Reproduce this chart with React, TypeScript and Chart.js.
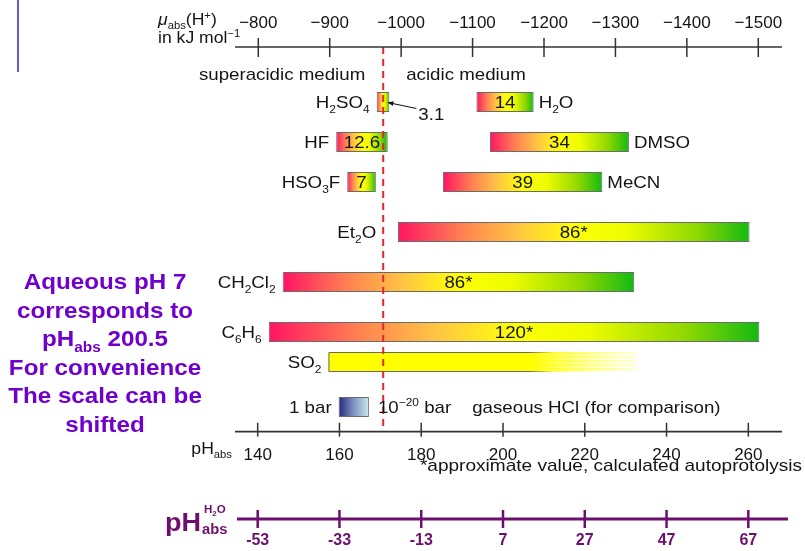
import React, { useEffect, useRef } from 'react';
import { Chart, registerables } from 'chart.js';

Chart.register(...registerables);

const FONT = '"Liberation Sans", Arial, Helvetica, sans-serif';
const INK = '#141414';
const NOTE_PURPLE = '#7000cc';
const AXIS_PURPLE = '#6d0f6d';

// ---------------- data ----------------
// main rows (superacidic media, solvents, SO2, gaseous HCl reference)
const rowLabels = ['H_2SO_4', 'HF', 'HSO_3F', 'Et_2O', 'CH_2Cl_2', 'C_6H_6', 'SO_2', '1 bar'];
const rowLevels = [5.5, 9.5, 13.5, 18.5, 23.5, 28.5, 31.5, 36];
const rowStart = [169.1, 159.2, 161.9, 174.3, 146.1, 142.7, 157.3, 159.8];
const rowEnd = [172.2, 171.8, 168.9, 260.3, 232.1, 262.7, 232.8, 167.2];
const rowValues = ['3.1', '12.6', '7', '86*', '86*', '120*', '', ''];

// acidic-medium solvents (right column of the first three rows)
const acidLabels = ['H_2O', 'DMSO', 'MeCN'];
const acidLevels = [5.5, 9.5, 13.5];
const acidStart = [193.5, 196.8, 185.3];
const acidEnd = [207.5, 230.8, 224.3];
const acidValues = ['14', '34', '39'];

const so2Row = 6;
const gasRow = 7;
const so2SolidEnd = 207.1;
const dividerPH = 170.7;

const phRange = [134.45, 268.24];
const muRange = [-1533.2, -767.4];
const waterShift = 193;
const levelRange = [0, 38.47];
const phTicks = [140, 160, 180, 200, 220, 240, 260];
const muTicks = [-800, -900, -1000, -1100, -1200, -1300, -1400, -1500];
const waterTicks = [-53, -33, -13, 7, 27, 47, 67];

const noteLines = ['Aqueous pH 7', 'corresponds to', 'pH_{abs} 200.5', 'For convenience', 'The scale can be', 'shifted'];

// ---------------- helpers ----------------
function parseRich(s: string) {
  const segs: { t: string; k: number }[] = [];
  let cur = '';
  let i = 0;
  while (i < s.length) {
    const ch = s[i];
    if ((ch === '_' || ch === '^') && i + 1 < s.length) {
      if (cur) { segs.push({ t: cur, k: 0 }); cur = ''; }
      let t = '';
      if (s[i + 1] === '{') { const j = s.indexOf('}', i + 2); t = s.slice(i + 2, j); i = j + 1; }
      else { t = s[i + 1]; i += 2; }
      segs.push({ t, k: ch === '_' ? 1 : 2 });
    } else { cur += ch; i++; }
  }
  if (cur) segs.push({ t: cur, k: 0 });
  return segs;
}

function drawRich(ctx: any, s: string, x: number, y: number, o: any = {}) {
  const size = o.size ?? 17;
  const weight = o.weight ?? 'normal';
  const style = o.style ?? 'normal';
  const sub = o.sub ?? size * 0.64;
  const sx = o.sx ?? 1.1;
  const segs = parseRich(s);
  const font = (k: number) => `${style} ${weight} ${k ? sub : size}px ${FONT}`;
  const widths = segs.map((sg) => { ctx.font = font(sg.k); return ctx.measureText(sg.t).width; });
  const w = widths.reduce((a, b) => a + b, 0) * sx;
  const align = o.align ?? 'left';
  const x0 = align === 'left' ? x : align === 'right' ? x - w : x - w / 2;
  if (o.measureOnly) return w;
  ctx.save();
  ctx.translate(x0, y);
  ctx.scale(sx, 1);
  ctx.fillStyle = o.color ?? INK;
  ctx.textAlign = 'left';
  ctx.textBaseline = 'alphabetic';
  let cx = 0;
  segs.forEach((sg, i) => {
    ctx.font = font(sg.k);
    const dy = sg.k === 1 ? size * 0.28 : sg.k === 2 ? -size * 0.4 : 0;
    ctx.fillText(sg.t, cx, dy);
    cx += widths[i];
  });
  ctx.restore();
  return w;
}

function barFill(c: any) {
  const chart = c.chart;
  const xs = chart.scales.x;
  const raw = c.raw;
  if (!xs || !raw || !chart.chartArea) return '#ffff00';
  const x0 = xs.getPixelForValue(raw.x[0]);
  const x1 = xs.getPixelForValue(raw.x[1]);
  const g = chart.ctx.createLinearGradient(x0, 0, x1, 0);
  if (c.datasetIndex === 0 && c.dataIndex === gasRow) {
    g.addColorStop(0, '#26287f');
    g.addColorStop(0.5, '#7f93c0');
    g.addColorStop(1, '#cbe9ec');
  } else if (c.datasetIndex === 0 && c.dataIndex === so2Row) {
    const f = Math.min(0.99, Math.max(0, (xs.getPixelForValue(so2SolidEnd) - x0) / (x1 - x0)));
    g.addColorStop(0, '#ffff00');
    g.addColorStop(f, '#ffff00');
    g.addColorStop(1, 'rgba(255,255,0,0.15)');
  } else {
    g.addColorStop(0, '#ff1462');
    g.addColorStop(0.18, '#ff7f52');
    g.addColorStop(0.34, '#ffc444');
    g.addColorStop(0.5, '#ffff08');
    g.addColorStop(0.65, '#eefc00');
    g.addColorStop(0.85, '#8fd800');
    g.addColorStop(1, '#12ba12');
  }
  return g;
}

function drawAxis(ctx: any, scale: any, y: number, ticks: number[], o: any) {
  ctx.save();
  ctx.strokeStyle = o.color;
  ctx.lineWidth = o.lw;
  ctx.beginPath();
  ctx.moveTo(o.x0, y);
  ctx.lineTo(o.x1, y);
  ctx.stroke();
  ctx.lineWidth = o.tlw;
  ticks.forEach((v) => {
    const px = scale.getPixelForValue(v);
    ctx.beginPath();
    ctx.moveTo(px, y - o.up);
    ctx.lineTo(px, y + o.down);
    ctx.stroke();
  });
  ctx.restore();
}

const decor = {
  id: 'decor',
  afterDraw(chart: any) {
    const { ctx, chartArea: area } = chart;
    const xs = chart.scales.x;
    const xt = chart.scales.xTop;
    const xw = chart.scales.xWater;
    const divX = xs.getPixelForValue(dividerPH);
    const main = chart.getDatasetMeta(0).data;
    const acid = chart.getDatasetMeta(1).data;

    // slide decoration line (top-left)
    ctx.save();
    ctx.fillStyle = '#6a5ad0';
    ctx.fillRect(17, 0, 2, 72);
    ctx.restore();

    // SO2: fading streaks + partial border
    const so2 = main[so2Row];
    if (so2) {
      const x0 = Math.min(so2.base, so2.x);
      const x1 = Math.max(so2.base, so2.x);
      const h = so2.height;
      const top = so2.y - h / 2;
      const bot = so2.y + h / 2;
      const xsE = xs.getPixelForValue(so2SolidEnd);
      ctx.save();
      const g = ctx.createLinearGradient(xsE, 0, x1, 0);
      g.addColorStop(0, 'rgba(255,255,255,0)');
      g.addColorStop(1, 'rgba(255,255,255,1)');
      ctx.fillStyle = g;
      for (let k = 0; k < 5; k++) ctx.fillRect(xsE, top + 2 + k * 4, x1 - xsE + 2, 1.7);
      const sg = ctx.createLinearGradient(xsE - 4, 0, xsE + 22, 0);
      sg.addColorStop(0, 'rgba(105,105,105,1)');
      sg.addColorStop(1, 'rgba(105,105,105,0)');
      ctx.strokeStyle = sg;
      ctx.lineWidth = 1;
      ctx.beginPath();
      ctx.moveTo(xsE + 22, top + 0.5);
      ctx.lineTo(x0 + 0.5, top + 0.5);
      ctx.lineTo(x0 + 0.5, bot - 0.5);
      ctx.lineTo(xsE + 22, bot - 0.5);
      ctx.stroke();
      ctx.restore();
    }

    // red dashed divider
    ctx.save();
    ctx.strokeStyle = '#e8242c';
    ctx.lineWidth = 2;
    ctx.setLineDash([7, 5]);
    ctx.beginPath();
    ctx.moveTo(divX, area.top);
    ctx.lineTo(divX, area.bottom);
    ctx.stroke();
    ctx.restore();

    // main row labels and values
    main.forEach((el: any, i: number) => {
      const left = Math.min(el.x, el.base);
      const right = Math.max(el.x, el.base);
      drawRich(ctx, rowLabels[i], Math.min(left, divX) - 7, el.y + 6, { align: 'right' });
      const v = rowValues[i];
      if (v) {
        const tw = drawRich(ctx, v, 0, 0, { measureOnly: true });
        if (tw + 4 < right - left) {
          drawRich(ctx, v, (left + right) / 2, el.y + 6, { align: 'center' });
        } else {
          const tx = right + 29;
          drawRich(ctx, v, tx, el.y + 18, {});
          ctx.save();
          ctx.strokeStyle = INK;
          ctx.fillStyle = INK;
          ctx.lineWidth = 1.1;
          const ax = right - 1.5, ay = el.y + 0.5;
          const bx = tx - 2, by = el.y + 6.5;
          ctx.beginPath();
          ctx.moveTo(bx, by);
          ctx.lineTo(ax, ay);
          ctx.stroke();
          const ang = Math.atan2(ay - by, ax - bx);
          ctx.beginPath();
          ctx.moveTo(ax, ay);
          ctx.lineTo(ax - 6 * Math.cos(ang - 0.4), ay - 6 * Math.sin(ang - 0.4));
          ctx.lineTo(ax - 6 * Math.cos(ang + 0.4), ay - 6 * Math.sin(ang + 0.4));
          ctx.closePath();
          ctx.fill();
          ctx.restore();
        }
      }
    });

    // acidic-medium solvents: names on the right
    acid.forEach((el: any, i: number) => {
      const left = Math.min(el.x, el.base);
      const right = Math.max(el.x, el.base);
      drawRich(ctx, acidLabels[i], right + 5, el.y + 6, {});
      drawRich(ctx, acidValues[i], (left + right) / 2, el.y + 6, { align: 'center' });
    });

    // gaseous HCl reference texts
    const gas = main[gasRow];
    if (gas) {
      const right = Math.max(gas.x, gas.base);
      const w = drawRich(ctx, '10^{\u221220} bar', right + 9, gas.y + 6, {});
      drawRich(ctx, 'gaseous HCl (for comparison)', right + 9 + w + 21, gas.y + 6, {});
    }

    // medium labels
    drawRich(ctx, 'superacidic medium', divX - 18, area.top + 32.5, { align: 'right' });
    drawRich(ctx, 'acidic medium', divX + 23, area.top + 32.5, {});

    // footnote
    drawRich(ctx, '*approximate value, calculated autoprotolysis', chart.width - 3, xs.top + 39, { align: 'right', sx: 1.12 });

    // axes
    drawAxis(ctx, xt, xt.bottom, muTicks, { color: '#333', lw: 1.7, tlw: 1.5, up: 9, down: 10, x0: area.left, x1: area.right });
    drawAxis(ctx, xs, xs.top, phTicks, { color: '#333', lw: 1.7, tlw: 1.5, up: 9, down: 5, x0: area.left, x1: area.right });
    drawAxis(ctx, xw, xw.top, waterTicks, { color: AXIS_PURPLE, lw: 3, tlw: 2.5, up: 9, down: 9, x0: area.left + 2, x1: area.right + 6 });

    // axis titles
    const mw = drawRich(ctx, '\u03bc', area.left - 77, area.top - 22, { size: 16, style: 'italic' });
    drawRich(ctx, '_{abs}(H^+)', area.left - 77 + mw, area.top - 22, { size: 16 });
    drawRich(ctx, 'in kJ mol^{\u22121}', area.left - 77, area.top - 4, { size: 16 });
    drawRich(ctx, 'pH_{abs}', area.left - 3, xs.top + 22.3, { size: 16, align: 'right' });

    const pw = drawRich(ctx, 'pH', area.left - 70, xw.top + 12, { size: 25, weight: 'bold', color: AXIS_PURPLE, sx: 1.08 });
    drawRich(ctx, 'abs', area.left - 70 + pw + 1, xw.top + 15, { size: 14, weight: 'bold', color: AXIS_PURPLE, sx: 1.05 });
    drawRich(ctx, 'H_2O', area.left - 70 + pw + 3, xw.top - 6, { size: 11, sub: 7.5, weight: 'bold', color: AXIS_PURPLE, sx: 1.05 });

    // left note
    noteLines.forEach((line, i) => {
      drawRich(ctx, line, 105, 289 + 28.6 * i, { size: 22, sub: 14, weight: 'bold', color: NOTE_PURPLE, align: 'center', sx: 1.1 });
    });
  },
};

export default function App() {
  const ref = useRef<HTMLCanvasElement | null>(null);

  useEffect(() => {
    const canvas = ref.current;
    if (!canvas) return;
    const tickFont = { family: FONT, size: 17 };
    const chart = new Chart(canvas, {
      type: 'bar',
      data: {
        datasets: [
          {
            label: 'media',
            data: rowStart.map((s, i) => ({ x: [s, rowEnd[i]], y: rowLevels[i] })),
            backgroundColor: barFill,
            borderColor: '#6b6b6b',
            borderWidth: (c: any) => (c.dataIndex === so2Row ? 0 : 1),
            borderSkipped: false,
            grouped: false,
            maxBarThickness: 20,
            xAxisID: 'x',
            yAxisID: 'y',
          },
          {
            label: 'acidic',
            data: acidStart.map((s, i) => ({ x: [s, acidEnd[i]], y: acidLevels[i] })),
            backgroundColor: barFill,
            borderColor: '#6b6b6b',
            borderWidth: 1,
            borderSkipped: false,
            grouped: false,
            maxBarThickness: 20,
            xAxisID: 'x',
            yAxisID: 'y',
          },
        ] as any,
      },
      options: {
        indexAxis: 'y',
        responsive: false,
        devicePixelRatio: 1,
        animation: false,
        events: [],
        layout: { padding: { left: 235, right: 23, top: 0, bottom: 0 } },
        plugins: { legend: { display: false }, tooltip: { enabled: false } },
        scales: {
          x: {
            type: 'linear',
            axis: 'x',
            position: 'bottom',
            weight: 1,
            min: phRange[0],
            max: phRange[1],
            offset: false,
            grid: { display: false, drawTicks: false },
            border: { display: false },
            ticks: { font: tickFont, color: INK, padding: 13.8, autoSkip: false, maxRotation: 0 },
            afterBuildTicks: (s: any) => { s.ticks = phTicks.map((v) => ({ value: v })); },
            afterFit: (s: any) => { s.height = 87.3; },
          },
          xTop: {
            type: 'linear',
            axis: 'x',
            position: 'top',
            reverse: true,
            min: muRange[0],
            max: muRange[1],
            offset: false,
            grid: { display: false, drawTicks: false },
            border: { display: false },
            ticks: {
              font: tickFont,
              color: INK,
              padding: 13.5,
              autoSkip: false,
              maxRotation: 0,
              callback: (v: any) => '\u2212' + Math.abs(Number(v)),
            },
            afterBuildTicks: (s: any) => { s.ticks = muTicks.map((v) => ({ value: v })); },
            afterFit: (s: any) => { s.height = 47; },
          },
          xWater: {
            type: 'linear',
            axis: 'x',
            position: 'bottom',
            weight: 2,
            min: phRange[0] - waterShift,
            max: phRange[1] - waterShift,
            offset: false,
            grid: { display: false, drawTicks: false },
            border: { display: false },
            ticks: {
              font: { family: FONT, size: 16, weight: 'bold' },
              color: AXIS_PURPLE,
              padding: 12.4,
              autoSkip: false,
              maxRotation: 0,
              callback: (v: any) => String(v),
            },
            afterBuildTicks: (s: any) => { s.ticks = waterTicks.map((v) => ({ value: v })); },
            afterFit: (s: any) => { s.height = 32; },
          },
          y: {
            type: 'linear',
            display: false,
            reverse: true,
            offset: false,
            min: levelRange[0],
            max: levelRange[1],
          },
        },
      } as any,
      plugins: [decor],
    });
    return () => chart.destroy();
  }, []);

  return (
    <div style={{ position: 'fixed', left: 0, top: 0, width: 805, height: 551, background: '#ffffff' }}>
      <canvas ref={ref} width={805} height={551} style={{ display: 'block', width: 805, height: 551 }} />
    </div>
  );
}
